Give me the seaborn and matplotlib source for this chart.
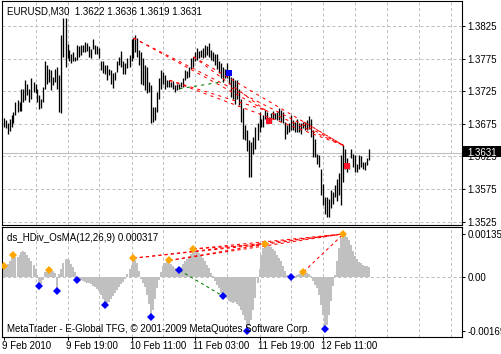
import numpy as np
import pandas as pd
import matplotlib
matplotlib.use("Agg")
import matplotlib.pyplot as plt
import matplotlib.transforms as mtransforms
from matplotlib.patches import Rectangle
import seaborn as sns

# ---------------- data (EURUSD M30, 184 bars) ----------------
highs = [1.3684, 1.3681, 1.3676, 1.3683, 1.3688, 1.3694, 1.3709, 1.3712, 1.3709, 1.3728,
         1.3728, 1.3742, 1.3737, 1.3728, 1.3745, 1.3740, 1.3737, 1.3729, 1.3719, 1.3714,
         1.3732, 1.3772, 1.3765, 1.3760, 1.3758, 1.3747, 1.3760, 1.3763, 1.3750, 1.3812,
         1.3838, 1.3837, 1.3798, 1.3789, 1.3783, 1.3786, 1.3778, 1.3796, 1.3794, 1.3796,
         1.3796, 1.3801, 1.3799, 1.3794, 1.3790, 1.3806, 1.3796, 1.3794, 1.3792, 1.3772,
         1.3771, 1.3766, 1.3765, 1.3760, 1.3758, 1.3753, 1.3755, 1.3771, 1.3778, 1.3787,
         1.3771, 1.3768, 1.3776, 1.3781, 1.3806, 1.3807, 1.3812, 1.3807, 1.3789, 1.3785,
         1.3776, 1.3765, 1.3763, 1.3740, 1.3735, 1.3701, 1.3701, 1.3724, 1.3746, 1.3758,
         1.3755, 1.3750, 1.3742, 1.3742, 1.3740, 1.3741, 1.3735, 1.3737, 1.3737, 1.3739,
         1.3746, 1.3758, 1.3756, 1.3763, 1.3776, 1.3778, 1.3786, 1.3792, 1.3787, 1.3789,
         1.3791, 1.3796, 1.3794, 1.3800, 1.3789, 1.3786, 1.3783, 1.3783, 1.3771, 1.3768,
         1.3763, 1.3760, 1.3768, 1.3758, 1.3747, 1.3745, 1.3742, 1.3742, 1.3729, 1.3714,
         1.3699, 1.3673, 1.3665, 1.3650, 1.3647, 1.3655, 1.3670, 1.3676, 1.3694, 1.3683,
         1.3688, 1.3696, 1.3694, 1.3686, 1.3691, 1.3695, 1.3691, 1.3694, 1.3699, 1.3696,
         1.3694, 1.3678, 1.3673, 1.3676, 1.3688, 1.3681, 1.3678, 1.3683, 1.3676, 1.3676,
         1.3678, 1.3678, 1.3681, 1.3687, 1.3683, 1.3665, 1.3652, 1.3629, 1.3627, 1.3606,
         1.3583, 1.3563, 1.3563, 1.3560, 1.3573, 1.3570, 1.3581, 1.3591, 1.3599, 1.3627,
         1.3642, 1.3637, 1.3622, 1.3614, 1.3637, 1.3629, 1.3627, 1.3614, 1.3627, 1.3625,
         1.3616, 1.3617, 1.3622, 1.3636]
lows = [1.3670, 1.3668, 1.3660, 1.3664, 1.3670, 1.3676, 1.3688, 1.3694, 1.3695, 1.3695,
        1.3709, 1.3712, 1.3719, 1.3709, 1.3713, 1.3724, 1.3722, 1.3709, 1.3698, 1.3699,
        1.3709, 1.3728, 1.3737, 1.3740, 1.3727, 1.3735, 1.3740, 1.3729, 1.3694, 1.3691,
        1.3778, 1.3763, 1.3776, 1.3771, 1.3768, 1.3771, 1.3772, 1.3773, 1.3778, 1.3781,
        1.3786, 1.3786, 1.3787, 1.3778, 1.3777, 1.3790, 1.3782, 1.3782, 1.3776, 1.3758,
        1.3753, 1.3751, 1.3742, 1.3750, 1.3737, 1.3730, 1.3742, 1.3754, 1.3765, 1.3763,
        1.3751, 1.3751, 1.3761, 1.3763, 1.3771, 1.3776, 1.3786, 1.3778, 1.3765, 1.3737,
        1.3735, 1.3727, 1.3722, 1.3724, 1.3676, 1.3678, 1.3681, 1.3694, 1.3714, 1.3729,
        1.3737, 1.3729, 1.3732, 1.3731, 1.3731, 1.3729, 1.3724, 1.3727, 1.3729, 1.3731,
        1.3732, 1.3742, 1.3745, 1.3747, 1.3760, 1.3763, 1.3771, 1.3773, 1.3776, 1.3778,
        1.3776, 1.3778, 1.3781, 1.3778, 1.3773, 1.3771, 1.3765, 1.3760, 1.3753, 1.3745,
        1.3740, 1.3745, 1.3745, 1.3737, 1.3717, 1.3714, 1.3706, 1.3714, 1.3704, 1.3678,
        1.3652, 1.3650, 1.3634, 1.3593, 1.3593, 1.3628, 1.3637, 1.3650, 1.3663, 1.3670,
        1.3670, 1.3683, 1.3678, 1.3676, 1.3676, 1.3683, 1.3683, 1.3681, 1.3681, 1.3678,
        1.3676, 1.3652, 1.3660, 1.3663, 1.3665, 1.3665, 1.3663, 1.3663, 1.3663, 1.3660,
        1.3668, 1.3665, 1.3665, 1.3667, 1.3655, 1.3624, 1.3624, 1.3614, 1.3609, 1.3565,
        1.3550, 1.3537, 1.3532, 1.3532, 1.3545, 1.3552, 1.3563, 1.3557, 1.3565, 1.3550,
        1.3586, 1.3606, 1.3601, 1.3606, 1.3622, 1.3609, 1.3601, 1.3601, 1.3606, 1.3609,
        1.3606, 1.3604, 1.3612, 1.3619]

# OsMA(12,26,9) histogram values
osma = [3.3e-4, 3.0e-4, 4.0e-4, 5.0e-4, 6.0e-4, 7.0e-4, 6.3e-4, 6.2e-4, 7.0e-4, 7.8e-4,
        8.0e-4, 7.8e-4, 6.8e-4, 6.0e-4, 5.0e-4, 3.8e-4, 2.5e-4, 0.5e-4, -2.9e-4, -2.3e-4,
        -0.8e-4, 1.5e-4, 2.0e-4, 2.1e-4, 2.0e-4, 1.8e-4, 1.2e-4, -4.4e-4, 0.8e-4, 2.5e-4,
        4.5e-4, 5.5e-4, 5.7e-4, 5.2e-4, 4.2e-4, 3.0e-4, 1.5e-4, -1.0e-4, -0.9e-4, -1.0e-4,
        -1.2e-4, -1.5e-4, -1.8e-4, -2.0e-4, -2.3e-4, -2.7e-4, -3.2e-4, -3.8e-4, -4.5e-4, -5.5e-4,
        -6.8e-4, -8.9e-4, -8.2e-4, -7.8e-4, -7.0e-4, -6.0e-4, -5.0e-4, -4.0e-4, -3.0e-4, -2.2e-4,
        -1.5e-4, -0.5e-4, 1.0e-4, 2.5e-4, 3.8e-4, 5.9e-4, 5.2e-4, 4.5e-4, 2.0e-4, -0.5e-4,
        -2.0e-4, -3.2e-4, -5.5e-4, -8.5e-4, -12.6e-4, -10.5e-4, -7.0e-4, -3.5e-4, -1.0e-4, 1.5e-4,
        3.5e-4, 4.5e-4, 4.8e-4, 5.2e-4, 4.2e-4, 3.5e-4, 2.8e-4, 2.4e-4, 2.1e-4, 3.0e-4,
        4.0e-4, 4.9e-4, 5.5e-4, 6.2e-4, 7.2e-4, 8.8e-4, 8.3e-4, 8.0e-4, 7.5e-4, 7.0e-4,
        6.0e-4, 4.9e-4, 3.9e-4, 2.8e-4, 1.3e-4, 0.2e-4, -1.4e-4, -2.4e-4, -3.4e-4, -5.0e-4,
        -6.1e-4, -5.9e-4, -6.6e-4, -7.4e-4, -7.8e-4, -8.2e-4, -7.8e-4, -8.5e-4, -9.2e-4, -10.2e-4,
        -11.8e-4, -13.4e-4, -16.9e-4, -15.5e-4, -13.5e-4, -10.5e-4, -6.5e-4, -2.0e-4, 2.5e-4, 7.0e-4,
        9.1e-4, 10.3e-4, 10.0e-4, 9.8e-4, 9.5e-4, 8.9e-4, 8.0e-4, 7.0e-4, 6.0e-4, 4.9e-4,
        3.3e-4, 1.8e-4, 0.7e-4, 0.4e-4, -0.1e-4, 0.1e-4, 0.4e-4, 0.7e-4, 0.8e-4, 1.3e-4,
        1.6e-4, 1.5e-4, 1.4e-4, 0.9e-4, 0.2e-4, -1.4e-4, -2.4e-4, -3.4e-4, -5.5e-4, -8.7e-4,
        -11.8e-4, -16.3e-4, -15.0e-4, -11.8e-4, -7.6e-4, -2.9e-4, 0.7e-4, 4.9e-4, 9.1e-4, 12.2e-4,
        13.5e-4, 13.3e-4, 12.5e-4, 11.5e-4, 10.0e-4, 8.0e-4, 6.5e-4, 5.5e-4, 4.8e-4, 4.3e-4,
        3.8e-4, 3.5e-4, 3.3e-4, 3.17e-4]

peak_bars = [0, 5, 23, 65, 83, 95, 131, 150, 170]      # orange diamonds
trough_bars = [18, 27, 37, 51, 74, 88, 110, 122, 144, 161]  # blue diamonds
bear_pairs = [(65, 131), (83, 131), (95, 131), (65, 170), (83, 170),
              (95, 170), (131, 170), (150, 170)]
bull_pairs = [(88, 110)]
buy_bars, buy_prices = [113], [1.3753]
sell_bars, sell_prices = [133, 172], [1.3680, 1.3610]

price_levels = [1.3825, 1.3775, 1.3725, 1.3675, 1.3625, 1.3575, 1.3525]
ind_levels = [0.00135, 0.0, -0.00169]
ind_labels = ["0.00135", "0.00", "-0.00169"]
time_bars = [0, 32, 64, 96, 128, 160]
time_labels = ["9 Feb 2010", "9 Feb 19:00", "10 Feb 11:00",
               "11 Feb 03:00", "11 Feb 19:00", "12 Feb 11:00"]
last_price = 1.3631
title = "EURUSD,M30  1.3622 1.3636 1.3619 1.3631"
ind_title = "ds_HDiv_OsMA(12,26,9) 0.000317"
footer = "MetaTrader - E-Global TFG, \u00a9 2001-2009 MetaQuotes Software Corp."

# ---------------- styling ----------------
sns.set_theme(style="white")
plt.rcParams["font.family"] = ["Liberation Sans", "DejaVu Sans"]
FS = 7
GRID = "#C0C0C0"

W, H = 501, 354
fig = plt.figure(figsize=(W / 100, H / 100), dpi=100)
fig.patch.set_facecolor("white")


def px_axes(x0, y0, x1, y1):
    return fig.add_axes([x0 / W, 1 - y1 / H, (x1 - x0) / W, (y1 - y0) / H])


ax1 = px_axes(2, 1, 462, 225)
ax2 = px_axes(2, 227, 462, 337)

n = len(highs)
idx = np.arange(n)
highs = np.array(highs)
lows = np.array(lows)
osma = np.array(osma)

def P(y):
    return 1.3825 - (y - 26.3) / 6507.0

def V(y):
    return (277.0 - y) / 31900.0

xlim = ((2 - 3.5) / 2.0, (462 - 3.5) / 2.0)

for ax in (ax1, ax2):
    ax.set_facecolor("white")
    for s in ax.spines.values():
        s.set_color("black")
        s.set_linewidth(0.8)
    for gx in range(16, 230, 16):
        ax.axvline(gx, color=GRID, lw=0.72, ls=(0, (3, 2.5)), zorder=0.5)

# ---- main price panel ----
for lv in price_levels:
    ax1.axhline(lv, color=GRID, lw=0.72, ls=(0, (3, 2.5)), zorder=0.5)
ax1.axhline(last_price, color=GRID, lw=0.8, zorder=0.6)
ax1.vlines(idx, lows, highs, color="black", lw=0.95, zorder=2)

for a, b in bear_pairs:
    ax1.plot([a, b], [highs[a], highs[b]], color="#FF0000", lw=0.75,
             ls=(0, (3, 4)), zorder=3)
for a, b in bull_pairs:
    ax1.plot([a, b], [lows[a], lows[b]], color="#008000", lw=0.75,
             ls=(0, (3, 4)), zorder=3)
ax1.plot(buy_bars, buy_prices, "s", ms=3.9, color="#0000FF", mew=0, zorder=4)
ax1.plot(sell_bars, sell_prices, "s", ms=3.9, color="#FF1428", mew=0, zorder=4)

ax1.set_xlim(*xlim)
ax1.set_ylim(P(225), P(1))
ax1.set_xticks([])
ax1.yaxis.tick_right()
ax1.set_yticks(price_levels)
ax1.set_yticklabels([f"{v:.4f}" for v in price_levels])
ax1.tick_params(axis="y", direction="out", length=2.2, width=0.7, pad=1.6,
                labelsize=FS, colors="black", right=True, left=False)

# ---- indicator panel ----
ax2.axhline(0, color=GRID, lw=0.72, ls=(0, (3, 2.5)), zorder=0.5)
df = pd.DataFrame({"bar": idx, "osma": osma})
sns.barplot(data=df, x="bar", y="osma", native_scale=True, color="#C0C0C0",
            saturation=1, width=1.0, linewidth=0, errorbar=None, ax=ax2,
            antialiased=False, zorder=1)
for a, b in bear_pairs:
    ax2.plot([a, b], [osma[a], osma[b]], color="#FF0000", lw=0.75,
             ls=(0, (3, 3)), zorder=3)
for a, b in bull_pairs:
    ax2.plot([a, b], [osma[a], osma[b]], color="#008000", lw=0.75,
             ls=(0, (3, 3)), zorder=3)
ax2.plot(peak_bars, osma[peak_bars], "D", ms=3.6, color="#FFA500", mew=0, zorder=4)
ax2.plot(trough_bars, osma[trough_bars], "D", ms=3.6, color="#0000FF", mew=0, zorder=4)

ax2.set_xlim(*xlim)
ax2.set_ylim(V(337), V(227))
ax2.set_xlabel("")
ax2.set_ylabel("")
ax2.yaxis.tick_right()
ax2.set_yticks(ind_levels)
ax2.set_yticklabels(ind_labels)
ax2.tick_params(axis="y", direction="out", length=2.2, width=0.7, pad=1.6,
                labelsize=FS, colors="black", right=True, left=False)
ax2.set_xticks(time_bars)
ax2.set_xticklabels(time_labels)
ax2.tick_params(axis="x", direction="out", length=2.2, width=0.7, pad=0.8,
                labelsize=FS, colors="black", bottom=True)
off = mtransforms.ScaledTranslation(-2.0 / 100, 0, fig.dpi_scale_trans)
for lbl in ax2.get_xticklabels():
    lbl.set_ha("left")
    lbl.set_transform(lbl.get_transform() + off)

# ---- texts ----
def ftext(x, y, s, **kw):
    fig.text(x / W, 1 - y / H, s, fontsize=FS, color="black", **kw)

ftext(7, 14, title, va="baseline", ha="left")
ftext(7, 241, ind_title, va="baseline", ha="left")
ftext(7, 332, footer, va="baseline", ha="left")

# current price box
fig.patches.append(Rectangle((463 / W, 1 - 157.5 / H), 37.5 / W, 11.5 / H,
                             transform=fig.transFigure, facecolor="black",
                             edgecolor="none", zorder=5))
fig.text(467 / W, 1 - 152 / H, f"{last_price:.4f}", fontsize=FS, color="white",
         va="center_baseline", ha="left", zorder=6)

fig.savefig("out.png", dpi=100, facecolor="white")
